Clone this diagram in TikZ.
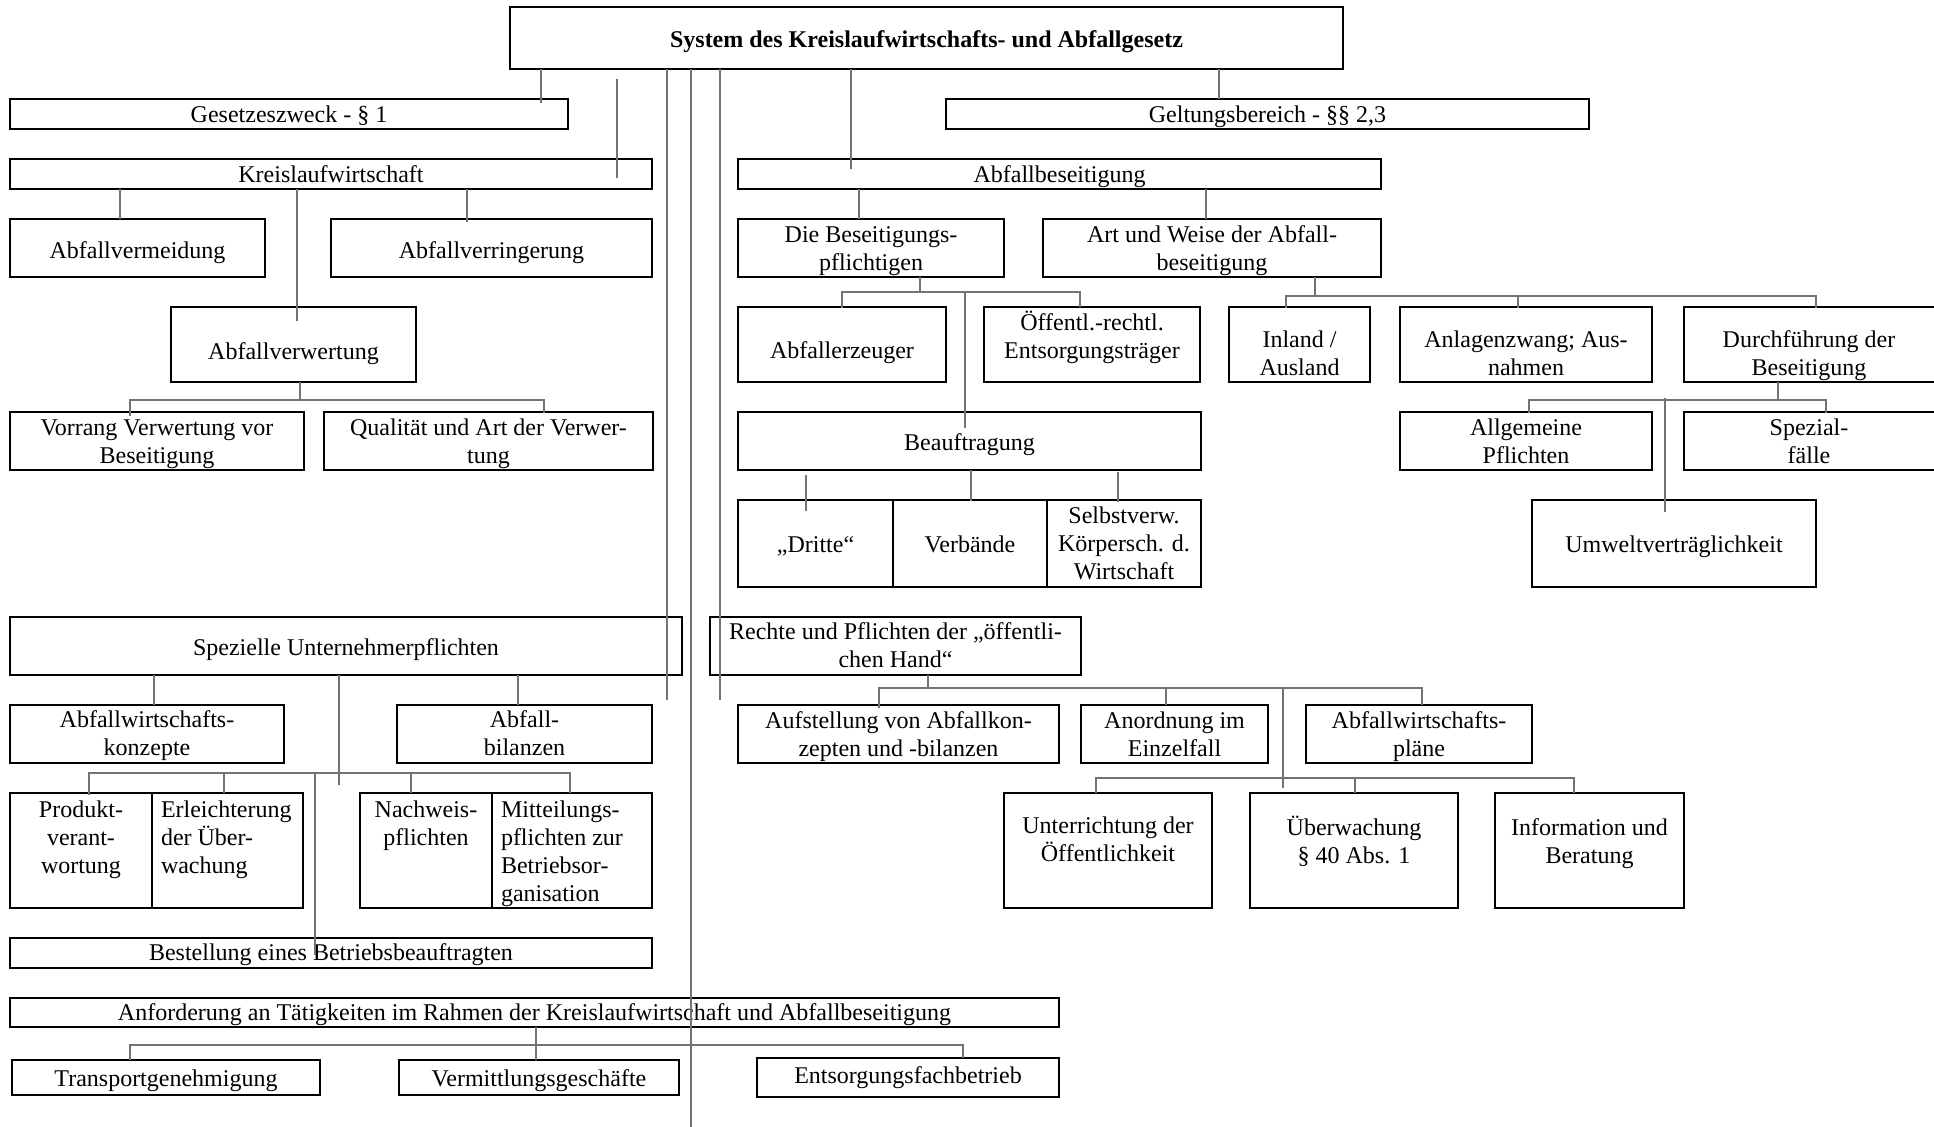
\documentclass[tikz,border=0pt]{standalone}
\usepackage{fontspec}
\setmainfont{Liberation Serif}
\usetikzlibrary{calc}
\tikzset{
  box/.style={draw=black, line width=1.15pt, inner sep=0pt, outer sep=0pt, rectangle},
  conn/.style={draw=black!55, line width=0.55pt},
  txt/.style={inner sep=0pt, outer sep=0pt, font=\fontsize{12}{14}\selectfont, anchor=base, yshift=-0.5pt},
  txtl/.style={txt, anchor=base west},
}
\newcommand\mkbox[5]{\node[box, minimum width={(#4-#2)*0.5pt}, minimum height={(#5-#3)*0.5pt}] (#1) at ({(#2+#4)/2},{(#3+#5)/2}) {};}
\newcommand\mlc[1]{\begin{tabular}[t]{@{}c@{}}#1\end{tabular}}
\newcommand\mll[1]{\begin{tabular}[t]{@{}l@{}}#1\end{tabular}}
\begin{document}
\begin{tikzpicture}[x=0.5pt,y=-0.5pt]
\fill[white] (0,0) rectangle (1934,1127);
\useasboundingbox (0,0) rectangle (1934,1127);
% boxes
\mkbox{top}{510}{7}{1343}{69}
\mkbox{gesetz}{10}{99}{568}{129}
\mkbox{geltung}{946}{99}{1589}{129}
\mkbox{kreis}{10}{159}{652}{189}
\mkbox{abfbes}{738}{159}{1381}{189}
\mkbox{vermeid}{10}{219}{265}{277}
\mkbox{verring}{331}{219}{652}{277}
\mkbox{bespfl}{738}{219}{1004}{277}
\mkbox{artweise}{1043}{219}{1381}{277}
\mkbox{verwert}{171}{307}{416}{382}
\mkbox{erzeuger}{738}{307}{946}{382}
\mkbox{oeff}{984}{307}{1200}{382}
\mkbox{inland}{1229}{307}{1370}{382}
\mkbox{anlagen}{1400}{307}{1652}{382}
\mkbox{durch}{1684}{307}{1942}{382}
\mkbox{vorrang}{10}{412}{304}{470}
\mkbox{qualit}{324}{412}{653}{470}
\mkbox{beauf}{738}{412}{1201}{470}
\mkbox{allg}{1400}{412}{1652}{470}
\mkbox{spezial}{1684}{412}{1942}{470}
\mkbox{dritte}{738}{500}{893}{587}
\mkbox{verb}{893}{500}{1047}{587}
\mkbox{selbst}{1047}{500}{1201}{587}
\mkbox{umwelt}{1532}{500}{1816}{587}
\mkbox{spezU}{10}{617}{682}{675}
\mkbox{rechte}{710}{617}{1081}{675}
\mkbox{awkonz}{10}{705}{284}{763}
\mkbox{abfbil}{397}{705}{652}{763}
\mkbox{aufst}{738}{705}{1059}{763}
\mkbox{anord}{1081}{705}{1268}{763}
\mkbox{awplaene}{1306}{705}{1532}{763}
\mkbox{produkt}{10}{793}{152}{908}
\mkbox{erleicht}{152}{793}{303}{908}
\mkbox{nachweis}{360}{793}{492}{908}
\mkbox{mitteil}{492}{793}{652}{908}
\mkbox{unterr}{1004}{793}{1212}{908}
\mkbox{ueberw}{1250}{793}{1458}{908}
\mkbox{info}{1495}{793}{1684}{908}
\mkbox{bestell}{10}{938}{652}{968}
\mkbox{anford}{10}{998}{1059}{1027}
\mkbox{transp}{12}{1060}{320}{1095}
\mkbox{vermitt}{399}{1060}{679}{1095}
\mkbox{entsorg}{757}{1058}{1059}{1097}
% texts
\node[txt, font=\fontsize{12}{14}\selectfont\bfseries, yshift=0pt] (t-top) at (926.5,47) {System des Kreislaufwirtschafts- und Abfallgesetz};
\node[txt] (t-gesetz) at (289,122) {Gesetzeszweck - § 1};
\node[txt] (t-geltung) at (1267.5,122) {Geltungsbereich - §§ 2,3};
\node[txt] (t-kreis) at (331,182) {Kreislaufwirtschaft};
\node[txt] (t-abfbes) at (1059.5,182) {Abfallbeseitigung};
\node[txt] (t-vermeid) at (137.5,258) {Abfallvermeidung};
\node[txt] (t-verring) at (491.5,258) {Abfallverringerung};
\node[txt] (t-bespfl) at (871,242) {\mlc{Die Beseitigungs-\\pflichtigen}};
\node[txt] (t-artweise) at (1212,242) {\mlc{Art und Weise der Abfall-\\beseitigung}};
\node[txt] (t-verwert) at (293.5,359) {Abfallverwertung};
\node[txt] (t-erzeuger) at (842,358) {Abfallerzeuger};
\node[txt] (t-oeff) at (1092,330) {\mlc{Öffentl.-rechtl.\\Entsorgungsträger}};
\node[txt] (t-inland) at (1299.5,347) {\mlc{Inland /\\Ausland}};
\node[txt] (t-anlagen) at (1526,347) {\mlc{Anlagenzwang; Aus-\\nahmen}};
\node[txt] (t-durch) at (1809,347) {\mlc{Durchführung der\\Beseitigung}};
\node[txt] (t-vorrang) at (157,435) {\mlc{Vorrang Verwertung vor\\Beseitigung}};
\node[txt] (t-qualit) at (488.5,435) {\mlc{Qualität und Art der Verwer-\\tung}};
\node[txt] (t-beauf) at (969.5,450) {Beauftragung};
\node[txt] (t-allg) at (1526,435) {\mlc{Allgemeine\\Pflichten}};
\node[txt] (t-spezial) at (1809,435) {\mlc{Spezial-\\fälle}};
\node[txt] (t-dritte) at (815.5,552) {„Dritte“};
\node[txt] (t-verb) at (970,552) {Verbände};
\node[txt] (t-selbst) at (1124,523) {\mlc{Selbstverw.\\Körpersch. d.\\Wirtschaft}};
\node[txt] (t-umwelt) at (1674,552) {Umweltverträglichkeit};
\node[txt] (t-spezU) at (346,655) {Spezielle Unternehmerpflichten};
\node[txt] (t-rechte) at (895.5,639) {\mlc{Rechte und Pflichten der „öffentli-\\chen Hand“}};
\node[txt] (t-awkonz) at (147,727) {\mlc{Abfallwirtschafts-\\konzepte}};
\node[txt] (t-abfbil) at (524.5,727) {\mlc{Abfall-\\bilanzen}};
\node[txt] (t-aufst) at (898.5,728) {\mlc{Aufstellung von Abfallkon-\\zepten und -bilanzen}};
\node[txt] (t-anord) at (1174.5,728) {\mlc{Anordnung im\\Einzelfall}};
\node[txt] (t-awplaene) at (1419,728) {\mlc{Abfallwirtschafts-\\pläne}};
\node[txt] (t-produkt) at (81,817) {\mlc{Produkt-\\verant-\\wortung}};
\node[txtl] (t-erleicht) at (161,817) {\mll{Erleichterung\\der Über-\\wachung}};
\node[txt] (t-nachweis) at (426,817) {\mlc{Nachweis-\\pflichten}};
\node[txtl] (t-mitteil) at (501,817) {\mll{Mitteilungs-\\pflichten zur\\Betriebsor-\\ganisation}};
\node[txt] (t-unterr) at (1108,833) {\mlc{Unterrichtung der\\Öffentlichkeit}};
\node[txt] (t-ueberw) at (1354,835) {\mlc{Überwachung\\§ 40 Abs. 1}};
\node[txt] (t-info) at (1589.5,835) {\mlc{Information und\\Beratung}};
\node[txt] (t-bestell) at (331,960) {Bestellung eines Betriebsbeauftragten};
\node[txt] (t-anford) at (534.5,1020) {Anforderung an Tätigkeiten im Rahmen der Kreislaufwirtschaft und Abfallbeseitigung};
\node[txt] (t-transp) at (166,1085) {Transportgenehmigung};
\node[txt] (t-vermitt) at (539,1085) {Vermittlungsgeschäfte};
\node[txt] (t-entsorg) at (908,1082) {Entsorgungsfachbetrieb};
% connectors from the top box
\coordinate (bottomend) at (691,1127);
\draw[conn] (top.south -| 541,0) -- ($(gesetz.north -| 541,0)+(0,4)$);
\draw[conn] ($(top.south -| 617,0)+(0,10)$) -- ($(kreis.north -| 617,0)+(0,19)$);
\draw[conn] (top.south -| 667,0) -- ($(spezU.south -| 667,0)+(0,25)$);
\draw[conn] (top.south -| 691,0) -- (bottomend);
\draw[conn] (top.south -| 720,0) -- ($(rechte.south -| 720,0)+(0,25)$);
\draw[conn] (top.south -| 851,0) -- ($(abfbes.north -| 851,0)+(0,10)$);
\draw[conn] (top.south -| 1219,0) -- (geltung.north -| 1219,0);
% Kreislaufwirtschaft
\draw[conn] (kreis.south -| 120,0) -- (vermeid.north -| 120,0);
\draw[conn] (kreis.south -| 467,0) -- ($(verring.north -| 467,0)+(0,3)$);
\draw[conn] (kreis.south -| 297,0) -- ($(verwert.north -| 297,0)+(0,14)$);
% Abfallverwertung
\coordinate (j1) at (300,400);
\draw[conn] (verwert.south -| j1) -- (j1);
\draw[conn] ($(vorrang.north -| 130,0)+(0,4)$) |- (j1) -| ($(qualit.north -| 544,0)+(0,1)$);
% Abfallbeseitigung
\draw[conn] (abfbes.south -| 859,0) -- (bespfl.north -| 859,0);
\draw[conn] (abfbes.south -| 1206,0) -- (artweise.north -| 1206,0);
% Beseitigungspflichtige
\coordinate (j2) at (920,292);
\draw[conn] (bespfl.south -| j2) -- (j2);
\draw[conn] ($(erzeuger.north -| 842,0)+(0,1)$) |- (j2) -| (oeff.north -| 1080,0);
\draw[conn] (j2 -| 965,0) -- ($(beauf.north -| 965,0)+(0,16)$);
% Art und Weise
\coordinate (j3) at (1315,296);
\draw[conn] (artweise.south -| j3) -- (j3);
\draw[conn] ($(inland.north -| 1286,0)+(0,1)$) |- (j3) -| ($(durch.north -| 1816,0)+(0,1)$);
\draw[conn] (j3 -| 1518,0) -- ($(anlagen.north -| 1518,0)+(0,1)$);
% Durchfuehrung
\coordinate (j4) at (1778,400);
\draw[conn] (durch.south -| j4) -- (j4);
\draw[conn] ($(allg.north -| 1529,0)+(0,1)$) |- (j4) -| ($(spezial.north -| 1826,0)+(0,1)$);
\draw[conn] ($(j4 -| 1665,0)+(0,-2)$) -- ($(umwelt.north -| 1665,0)+(0,12)$);
% Beauftragung
\draw[conn] ($(beauf.south -| 806,0)+(0,5)$) -- ($(dritte.north -| 806,0)+(0,11)$);
\draw[conn] (beauf.south -| 971,0) -- ($(verb.north -| 971,0)+(0,1)$);
\draw[conn] ($(beauf.south -| 1118,0)+(0,2)$) -- ($(selbst.north -| 1118,0)+(0,2)$);
% Spezielle Unternehmerpflichten
\draw[conn] (spezU.south -| 154,0) -- (awkonz.north -| 154,0);
\draw[conn] (spezU.south -| 518,0) -- (abfbil.north -| 518,0);
\coordinate (j5) at (339,773);
\draw[conn] (spezU.south -| j5) -- ($(j5)+(0,12)$);
\draw[conn] ($(produkt.north -| 89,0)+(0,2)$) |- (j5) -| (mitteil.north -| 570,0);
\draw[conn] (j5 -| 224,0) -- (erleicht.north -| 224,0);
\draw[conn] (j5 -| 411,0) -- (nachweis.north -| 411,0);
\draw[conn] (j5 -| 315,0) -- ($(bestell.north -| 315,0)+(0,17)$);
% Rechte und Pflichten
\coordinate (j6) at (928,688);
\draw[conn] (rechte.south -| j6) -- (j6);
\draw[conn] ($(aufst.north -| 879,0)+(0,3)$) |- (j6) -| (awplaene.north -| 1422,0);
\draw[conn] (j6 -| 1166,0) -- (anord.north -| 1166,0);
\coordinate (j7) at (1283,778);
\draw[conn] ($(j6 -| 1283,0)+(0,-1)$) -- ($(j7)+(0,10)$);
\draw[conn] (unterr.north -| 1096,0) |- (j7) -| (info.north -| 1574,0);
\draw[conn] (j7 -| 1355,0) -- (ueberw.north -| 1355,0);
% Anforderung
\coordinate (j8) at (536,1045);
\draw[conn] (anford.south -| j8) -- (vermitt.north -| j8);
\draw[conn] (transp.north -| 130,0) |- (j8) -| (entsorg.north -| 963,0);
\end{tikzpicture}
\end{document}
